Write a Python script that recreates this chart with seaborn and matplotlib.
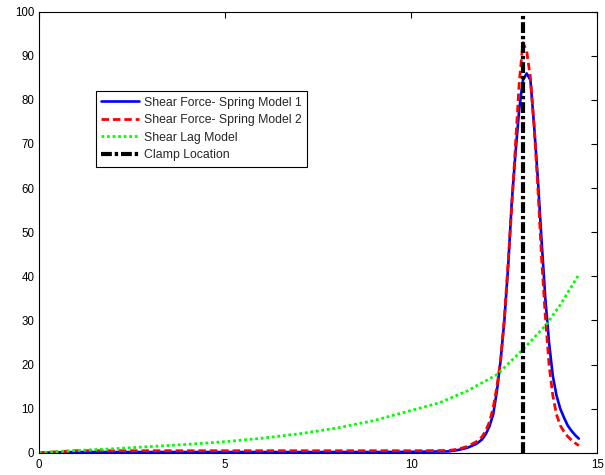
import matplotlib
matplotlib.use("Agg")
import matplotlib.pyplot as plt
import seaborn as sns
import pandas as pd

# ---- data ----
x_spring1 = [0, 1, 2, 3, 4, 5, 6, 7, 8, 9, 10, 11, 11.25, 11.5, 11.75, 11.9,
             12.0, 12.1, 12.2, 12.3, 12.4, 12.5, 12.6, 12.7, 12.8, 12.9, 13.0,
             13.1, 13.2, 13.3, 13.4, 13.5, 13.6, 13.7, 13.8, 13.9, 14.0,
             14.1, 14.2, 14.3, 14.4, 14.5]
y_spring1 = [0, 0.15, 0.15, 0.15, 0.15, 0.15, 0.15, 0.15, 0.15, 0.15, 0.2, 0.3, 0.6, 1.1, 2.0, 3.0,
             4.2, 6.0, 8.7, 14, 21, 30, 42, 57, 68, 78, 84.5,
             86, 84.5, 74, 62, 48, 35, 25, 17.5, 13, 10,
             8, 6.2, 5, 4, 3.2]

x_spring2 = [0, 1, 2, 3, 4, 5, 6, 7, 8, 9, 10, 11, 11.25, 11.5, 11.75, 11.9,
             12.0, 12.1, 12.2, 12.3, 12.4, 12.5, 12.6, 12.7, 12.8, 12.9, 13.0,
             13.1, 13.2, 13.3, 13.4, 13.5, 13.6, 13.7, 13.8, 13.9, 14.0,
             14.1, 14.2, 14.3, 14.4, 14.5]
y_spring2 = [0, 0.45, 0.45, 0.45, 0.45, 0.45, 0.45, 0.45, 0.45, 0.45, 0.45, 0.5, 0.8, 1.4, 2.5, 3.6,
             5.0, 7.0, 10.2, 15, 21, 30.5, 43, 56, 70, 84, 93,
             91, 85, 74, 60, 44, 31, 20, 13, 8.7, 6.2,
             4.8, 3.7, 2.9, 2.2, 1.6]

x_shearlag = [0, 1, 2, 3, 4, 5, 6, 7, 8, 9, 10, 10.75, 11.5, 12.3, 13.0, 13.6, 14.0, 14.5]
y_shearlag = [0, 0.5, 0.9, 1.4, 1.9, 2.5, 3.3, 4.3, 5.6, 7.3, 9.6, 11.3, 14.0, 17.7, 23.4, 28.8, 33.5, 40.4]

clamp_location = 13

series_labels = ["Shear Force- Spring Model 1", "Shear Force- Spring Model 2",
                 "Shear Lag Model", "Clamp Location"]

x_ticks = [0, 5, 10, 15]
y_ticks = [0, 10, 20, 30, 40, 50, 60, 70, 80, 90, 100]

# ---- plotting ----
sns.set_style("white")
plt.rcParams["font.family"] = ["Liberation Sans", "DejaVu Sans"]
plt.rcParams["xtick.direction"] = "in"
plt.rcParams["ytick.direction"] = "in"

fig = plt.figure(figsize=(6.05, 4.75), dpi=100)
ax = fig.add_axes([0.0645, 0.0469, 0.923, 0.9285])

df1 = pd.DataFrame({"x": x_spring1, "y": y_spring1})
df2 = pd.DataFrame({"x": x_spring2, "y": y_spring2})
df3 = pd.DataFrame({"x": x_shearlag, "y": y_shearlag})

sns.lineplot(data=df1, x="x", y="y", ax=ax, color="#0000ff", lw=1.9,
             label=series_labels[0], sort=False)
sns.lineplot(data=df2, x="x", y="y", ax=ax, color="#ff0000", lw=2.0,
             linestyle=(0, (2.7, 1.4)), label=series_labels[1], sort=False)
sns.lineplot(data=df3, x="x", y="y", ax=ax, color="#00ff00", lw=2.0,
             linestyle=(0, (1, 1)), label=series_labels[2], sort=False)
ax.axvline(clamp_location, color="black", lw=3.0,
           linestyle=(0, (2.6, 0.7, 0.8, 0.7)), label=series_labels[3])

ax.set_xlim(0, 15)
ax.set_ylim(0, 100)
ax.set_xticks(x_ticks)
ax.set_yticks(y_ticks)
ax.set_xlabel("")
ax.set_ylabel("")
ax.tick_params(axis="both", which="both", direction="in", length=4, width=0.8,
               labelsize=8.3, top=True, right=True, colors="black")
ax.tick_params(axis="x", pad=4.5)
ax.tick_params(axis="y", pad=3.4)
for s in ax.spines.values():
    s.set_color("black")
    s.set_linewidth(0.8)

leg = ax.legend(loc="upper left", bbox_to_anchor=(0.102, 0.820), fontsize=8.8,
                frameon=True, fancybox=False, framealpha=1, edgecolor="black",
                handlelength=3.1, handletextpad=0.35, borderpad=0.45,
                labelspacing=0.45, borderaxespad=0)
leg.get_frame().set_linewidth(0.8)

fig.savefig("out.png", dpi=100)
